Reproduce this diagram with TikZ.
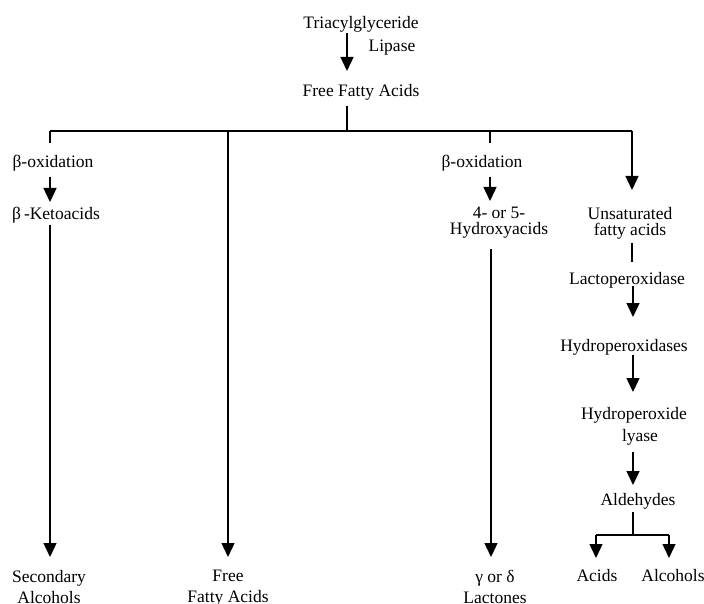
\documentclass[tikz,border=0pt]{standalone}
\usepackage{fontspec}
\setmainfont{Liberation Serif}
\usetikzlibrary{arrows.meta}
\begin{document}
\begin{tikzpicture}[x=1pt,y=-1pt,
  lbl/.style={inner sep=0pt,outer sep=0pt,text height=14pt,text depth=2pt,font=\fontsize{17.5}{18}\selectfont},
  mlbl/.style={inner sep=0pt,outer sep=0pt,align=center,anchor=north,font=\fontsize{17.5}{18}\selectfont},
  ln/.style={line width=1.4pt,black},
  arr/.style={ln,-{Triangle[width=13pt,length=14pt]}}]
\useasboundingbox (0,0) rectangle (704,604);
% nodes
\node[lbl] (tri) at (361,23) {Triacylglyceride};
\node[lbl] (lip) at (392,46) {Lipase};
\node[lbl] (ffa) at (361,91) {Free Fatty Acids};
\node[lbl] (ox1) at (53,162) {β-oxidation};
\node[lbl] (bk) at (56,213) {β\,-Ketoacids};
\node[mlbl] (sec) at (49,570) {Secondary\\[3pt]Alcohols};
\node[mlbl] (free) at (228,570) {Free\\[3pt]Fatty Acids};
\node[lbl] (ox2) at (482,162) {β-oxidation};
\node[mlbl] (hyd) at (499,207) {4- or 5-\hspace{20pt}\\[-2pt]Hydroxyacids};
\node[mlbl] (lac) at (495,570) {γ or δ\\[3pt]Lactones};
\node[mlbl] (unsat) at (630,207) {Unsaturated\\[-2pt]fatty acids};
\node[lbl] (lpx) at (627,278) {Lactoperoxidase};
\node[lbl] (hpx) at (624,345) {Hydroperoxidases};
\node[mlbl] (hpl) at (634,407) {Hydroperoxide\\[4pt]\hspace{12pt}lyase};
\node[lbl] (ald) at (638,499) {Aldehydes};
\node[lbl] (acids) at (597,575) {Acids};
\node[lbl] (alc) at (673,575) {Alcohols};
% coordinates
\coordinate (b1) at (50,131);
\coordinate (b2) at (228,131);
\coordinate (bm) at (347,131);
\coordinate (b3) at (490,131);
\coordinate (b4) at (632,131);
\coordinate (c3) at (491,250);
\coordinate (c4) at (633,280);
\coordinate (split) at (633,535);
\coordinate (sl) at (596,535);
\coordinate (sr) at (669,535);
% connectors
\draw[arr,shorten <=2pt,shorten >=12pt] (tri.south -| bm) -- (ffa.north -| bm);
\draw[ln,shorten <=7pt] (ffa.south -| bm) -- (bm);
\draw[ln] (b1) -- (b4);
\draw[ln,shorten >=11pt] (b1) -- (ox1.north -| b1);
\draw[arr,shorten <=7pt,shorten >=3pt] (ox1.south -| b1) -- (bk.north -| b1);
\draw[arr,shorten <=4pt,shorten >=13pt] (bk.south -| b1) -- (sec.north -| b1);
\draw[arr,shorten >=13pt] (b2) -- (free.north -| b2);
\draw[ln,shorten >=11pt] (b3) -- (ox2.north -| b3);
\draw[arr,shorten <=7pt,shorten >=6pt] (ox2.south -| b3) -- (hyd.north -| b3);
\draw[arr,shorten <=11pt,shorten >=13pt] (hyd.south -| c3) -- (lac.north -| c3);
\draw[arr,shorten >=17pt] (b4) -- (unsat.north -| b4);
\draw[ln,shorten <=4pt,shorten >=8pt] (unsat.south -| b4) -- (lpx.north -| b4);
\draw[arr,shorten >=20pt] (lpx.south -| c4) -- (hpx.north -| c4);
\draw[arr,shorten <=2pt,shorten >=15pt] (hpx.south -| c4) -- (hpl.north -| c4);
\draw[arr,shorten <=7pt,shorten >=6pt] (hpl.south -| c4) -- (ald.north -| c4);
\draw[ln,shorten <=5pt] (ald.south -| split) -- (split);
\draw[ln] (sl) -- (sr);
\draw[arr,shorten >=9pt] (sl) -- (acids.north -| sl);
\draw[arr,shorten >=9pt] (sr) -- (alc.north -| sr);
\end{tikzpicture}
\end{document}
